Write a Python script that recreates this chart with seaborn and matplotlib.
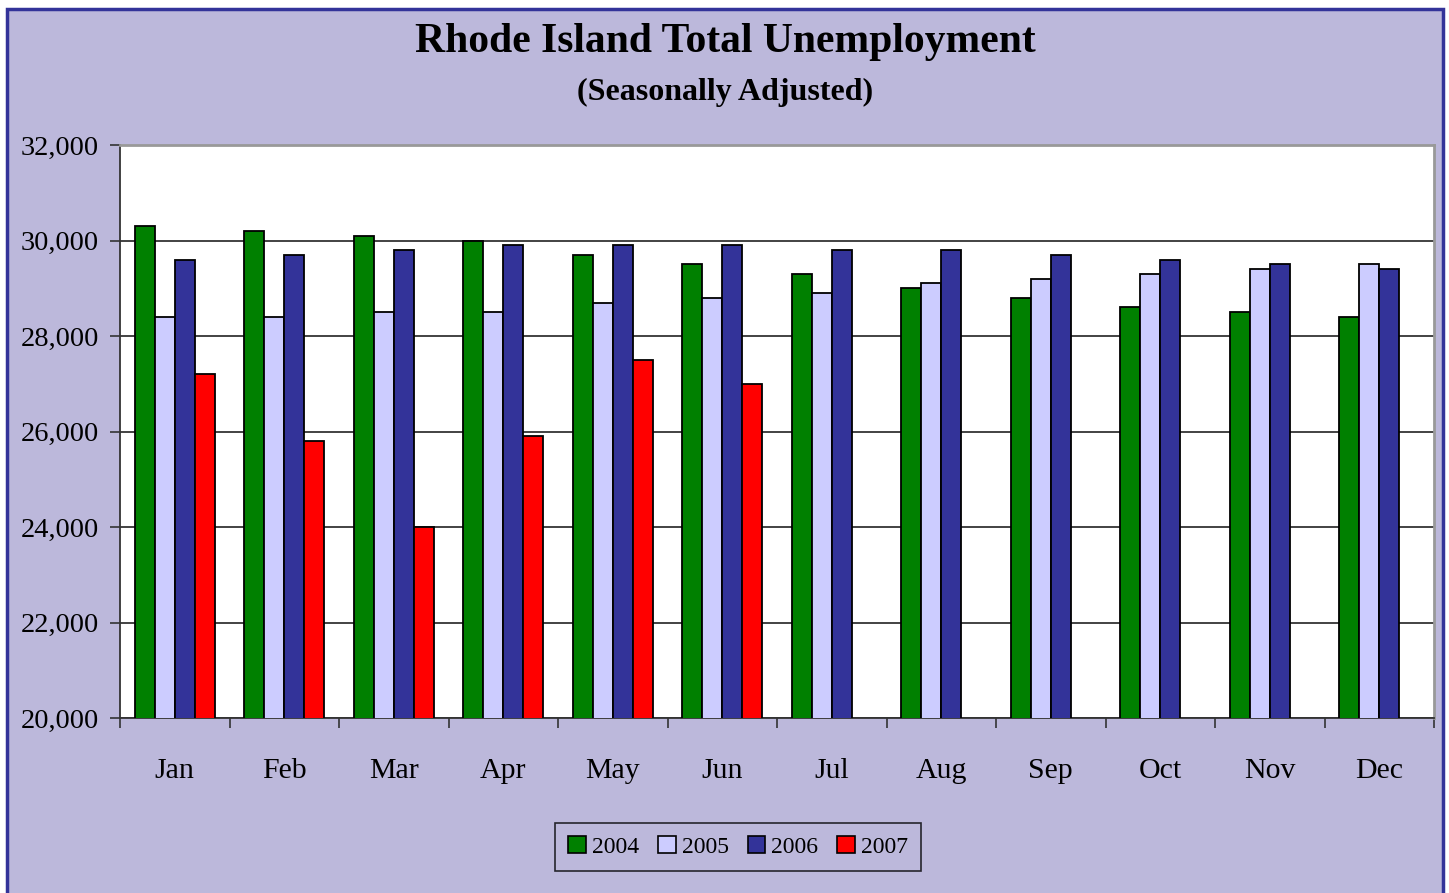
import matplotlib
matplotlib.use("Agg")
import matplotlib.pyplot as plt
from matplotlib.patches import Rectangle, Patch
from matplotlib.ticker import FixedLocator, FuncFormatter
import numpy as np
import pandas as pd
import seaborn as sns

# Monthly unemployment, seasonally adjusted
months = ["Jan", "Feb", "Mar", "Apr", "May", "Jun",
          "Jul", "Aug", "Sep", "Oct", "Nov", "Dec"]
years = ["2004", "2005", "2006", "2007"]
u2004 = [30300, 30200, 30100, 30000, 29700, 29500, 29300, 29000, 28800, 28600, 28500, 28400]
u2005 = [28400, 28400, 28500, 28500, 28700, 28800, 28900, 29100, 29200, 29300, 29400, 29500]
u2006 = [29600, 29700, 29800, 29900, 29900, 29900, 29800, 29800, 29700, 29600, 29500, 29400]
u2007 = [27200, 25800, 24000, 25900, 27500, 27000, np.nan, np.nan, np.nan, np.nan, np.nan, np.nan]
y_ticks = [20000, 22000, 24000, 26000, 28000, 30000, 32000]

colors = ["#008000", "#CCCCFF", "#333399", "#FF0000"]
bg = "#BCB8DB"
navy = "#333399"

df = pd.DataFrame({
    "month": months * 4,
    "year": sum([[y] * 12 for y in years], []),
    "value": u2004 + u2005 + u2006 + u2007,
})

sns.set_theme(style="white")
plt.rcParams["font.family"] = ["Liberation Serif", "DejaVu Serif"]
plt.rcParams["text.color"] = "black"
plt.rcParams["xtick.color"] = "black"
plt.rcParams["ytick.color"] = "black"

W, H = 1449, 893
fig = plt.figure(figsize=(W / 100, H / 100), dpi=100, facecolor="white")

# Chart-area panel with navy frame
fig.patches.append(Rectangle((7 / W, -0.05), (1443 - 7) / W, 1.05 - 9 / H,
                             transform=fig.transFigure, facecolor=bg,
                             edgecolor=navy, linewidth=2.5, zorder=-5))

ax = fig.add_axes([120 / W, (H - 718) / H, (1434 - 120) / W, (718 - 145) / H])
ax.set_zorder(2)
ax.set_facecolor("white")

sns.barplot(data=df, x="month", y="value", hue="year", order=months,
            hue_order=years, palette=colors, width=0.73, errorbar=None,
            edgecolor="black", linewidth=1.3, saturation=1, ax=ax, zorder=3)

ax.set_ylim(20000, 32000)
ax.set_xlim(-0.5, 11.5)
ax.yaxis.set_major_locator(FixedLocator(y_ticks))
ax.yaxis.set_major_formatter(FuncFormatter(lambda v, p: f"{int(v):,}"))
ax.grid(axis="y", color="#222222", linewidth=1.2, zorder=1)
ax.set_axisbelow(True)

# Month labels centred, tick marks on category boundaries
ax.set_xticks(range(12))
ax.set_xticklabels(months)
ax.set_xticks(np.arange(-0.5, 12, 1), minor=True)
ax.tick_params(axis="x", which="major", length=0, pad=29, labelsize=21.5,
               labelcolor="black")
ax.tick_params(axis="x", which="minor", length=7, width=1.2, direction="out",
               bottom=True, color="#333333")
ax.tick_params(axis="y", length=7, width=1.2, direction="out", left=True,
               pad=8, labelsize=20.5, color="#333333", labelcolor="black")
ax.set_xlabel("")
ax.set_ylabel("")

for side in ["left", "bottom"]:
    ax.spines[side].set_color("#333333")
    ax.spines[side].set_linewidth(1.3)
for side in ["top", "right"]:
    ax.spines[side].set_color("#999999")
    ax.spines[side].set_linewidth(2)

if ax.get_legend() is not None:
    ax.get_legend().remove()

handles = [Patch(facecolor=c, edgecolor="black", linewidth=1.2) for c in colors]
leg = fig.legend(handles, years, loc="center", bbox_to_anchor=(738 / W, 1 - 847 / H),
                 ncol=4, fontsize=17, frameon=True, fancybox=False,
                 handlelength=0.75, handleheight=0.75, handletextpad=0.25,
                 columnspacing=0.8, borderpad=0.55)
leg.get_frame().set_facecolor(bg)
leg.get_frame().set_edgecolor("black")
leg.get_frame().set_linewidth(1.2)
for t in leg.get_texts():
    t.set_color("black")

fig.text(725 / W, 1 - 42 / H, "Rhode Island Total Unemployment", ha="center",
         va="center", fontsize=30, fontweight="bold", color="black")
fig.text(725 / W, 1 - 92 / H, "(Seasonally Adjusted)", ha="center",
         va="center", fontsize=23, fontweight="bold", color="black")

fig.savefig("out.png", dpi=100, facecolor=fig.get_facecolor())
